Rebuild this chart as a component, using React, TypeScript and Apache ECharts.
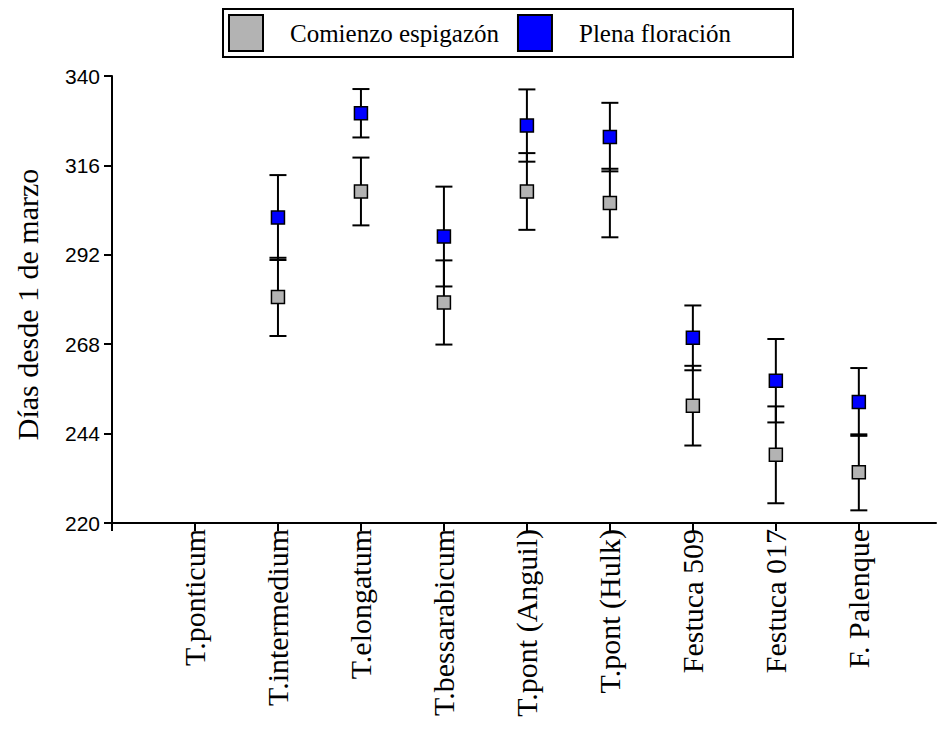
import React, { useEffect, useRef } from "react";
import * as echarts from "echarts";

const categories = [
  "T.ponticum",
  "T.intermedium",
  "T.elongatum",
  "T.bessarabicum",
  "T.pont (Anguil)",
  "T.pont (Hulk)",
  "Festuca 509",
  "Festuca 017",
  "F. Palenque",
];

// Comienzo espigazón (mean, error)
const espigazon: (number | null)[] = [null, 280.7, 309.0, 279.2, 309.0, 305.9, 251.5, 238.3, 233.6];
const espigazonErr: (number | null)[] = [null, 10.5, 9.1, 11.3, 10.3, 9.2, 10.7, 13.0, 10.2];

// Plena floración (mean, error)
const floracion: (number | null)[] = [null, 302.0, 330.0, 296.9, 326.7, 323.6, 269.7, 258.2, 252.5];
const floracionErr: (number | null)[] = [null, 11.4, 6.5, 13.4, 9.7, 9.2, 8.7, 11.2, 9.1];

const yTicks = [220, 244, 268, 292, 316, 340];
const xTickPositions = [0, 1, 2, 3, 4, 5, 6, 7, 8, 9];
const xLabelPositions = [1, 2, 3, 4, 5, 6, 7, 8, 9];

const SERIF = "'Liberation Serif', 'Times New Roman', Times, serif";
const SANS = "'Liberation Sans', Arial, Helvetica, sans-serif";

function points(vals: (number | null)[]) {
  const out: number[][] = [];
  vals.forEach((v, i) => {
    if (v != null) out.push([i + 1, v]);
  });
  return out;
}

function errData(vals: (number | null)[], errs: (number | null)[]) {
  const out: number[][] = [];
  vals.forEach((v, i) => {
    const e = errs[i];
    if (v != null && e != null) out.push([i + 1, v - e, v + e]);
  });
  return out;
}

function errorRender(params: any, api: any) {
  const x = api.value(0);
  const lo = api.value(1);
  const hi = api.value(2);
  const pHi = api.coord([x, hi]);
  const pLo = api.coord([x, lo]);
  const hw = 8.5;
  const style = { stroke: "#000", lineWidth: 2 };
  return {
    type: "group",
    children: [
      { type: "line", shape: { x1: pHi[0], y1: pHi[1], x2: pLo[0], y2: pLo[1] }, style },
      { type: "line", shape: { x1: pHi[0] - hw, y1: pHi[1], x2: pHi[0] + hw, y2: pHi[1] }, style },
      { type: "line", shape: { x1: pLo[0] - hw, y1: pLo[1], x2: pLo[0] + hw, y2: pLo[1] }, style },
    ],
  };
}

export default function App() {
  const ref = useRef<HTMLDivElement>(null);

  useEffect(() => {
    if (!ref.current) return;
    const chart = echarts.init(ref.current, null, { renderer: "svg" });
    const option: any = {
      animation: false,
      backgroundColor: "#fff",
      grid: { left: 112, right: 2, top: 76, bottom: 206, containLabel: false },
      legend: {
        left: 223,
        top: 9,
        orient: "horizontal",
        itemWidth: 34,
        itemHeight: 36,
        itemGap: 18,
        padding: [5, 62, 5, 5],
        borderColor: "#000",
        borderWidth: 2,
        borderRadius: 0,
        data: ["Comienzo espigazón", "Plena floración"],
        textStyle: {
          fontFamily: SERIF,
          fontSize: 25,
          color: "#000",
          padding: [0, 0, 0, 22],
        },
      },
      xAxis: {
        type: "value",
        min: 0,
        max: 9.93,
        splitLine: { show: false },
        axisLine: { show: true, onZero: false, lineStyle: { color: "#000", width: 2 } },
        axisTick: {
          show: true,
          length: 8,
          inside: false,
          lineStyle: { color: "#000", width: 2 },
          customValues: xTickPositions,
        },
        axisLabel: {
          customValues: xLabelPositions,
          rotate: 90,
          margin: 6,
          fontFamily: SERIF,
          fontSize: 30,
          color: "#000",
          formatter: (v: number) => categories[Math.round(v) - 1] ?? "",
        },
      },
      yAxis: {
        type: "value",
        min: 220,
        max: 340,
        name: "Días desde 1 de marzo",
        nameLocation: "middle",
        nameGap: 70,
        nameTextStyle: { fontFamily: SERIF, fontSize: 30, color: "#000", padding: [0, 10, 0, 0] },
        splitLine: { show: false },
        axisLine: { show: true, onZero: false, lineStyle: { color: "#000", width: 2 } },
        axisTick: {
          show: true,
          length: 8,
          lineStyle: { color: "#000", width: 2 },
          customValues: yTicks,
        },
        axisLabel: {
          customValues: yTicks,
          margin: 12,
          fontFamily: SANS,
          fontSize: 21,
          color: "#000",
        },
      },
      series: [
        {
          name: "errEsp",
          type: "custom",
          renderItem: errorRender,
          data: errData(espigazon, espigazonErr),
          z: 1,
          silent: true,
        },
        {
          name: "errFlo",
          type: "custom",
          renderItem: errorRender,
          data: errData(floracion, floracionErr),
          z: 1,
          silent: true,
        },
        {
          name: "Comienzo espigazón",
          type: "scatter",
          symbol: "rect",
          symbolSize: 13,
          data: points(espigazon),
          itemStyle: { color: "#b3b3b3", borderColor: "#000", borderWidth: 1.5, opacity: 1 },
          z: 3,
        },
        {
          name: "Plena floración",
          type: "scatter",
          symbol: "rect",
          symbolSize: 13,
          data: points(floracion),
          itemStyle: { color: "#0000ff", borderColor: "#000", borderWidth: 1.5, opacity: 1 },
          z: 3,
        },
      ],
    };
    chart.setOption(option);
    return () => chart.dispose();
  }, []);

  return (
    <div
      ref={ref}
      style={{ position: "fixed", left: 0, top: 0, width: 938, height: 729, background: "#fff" }}
    />
  );
}
